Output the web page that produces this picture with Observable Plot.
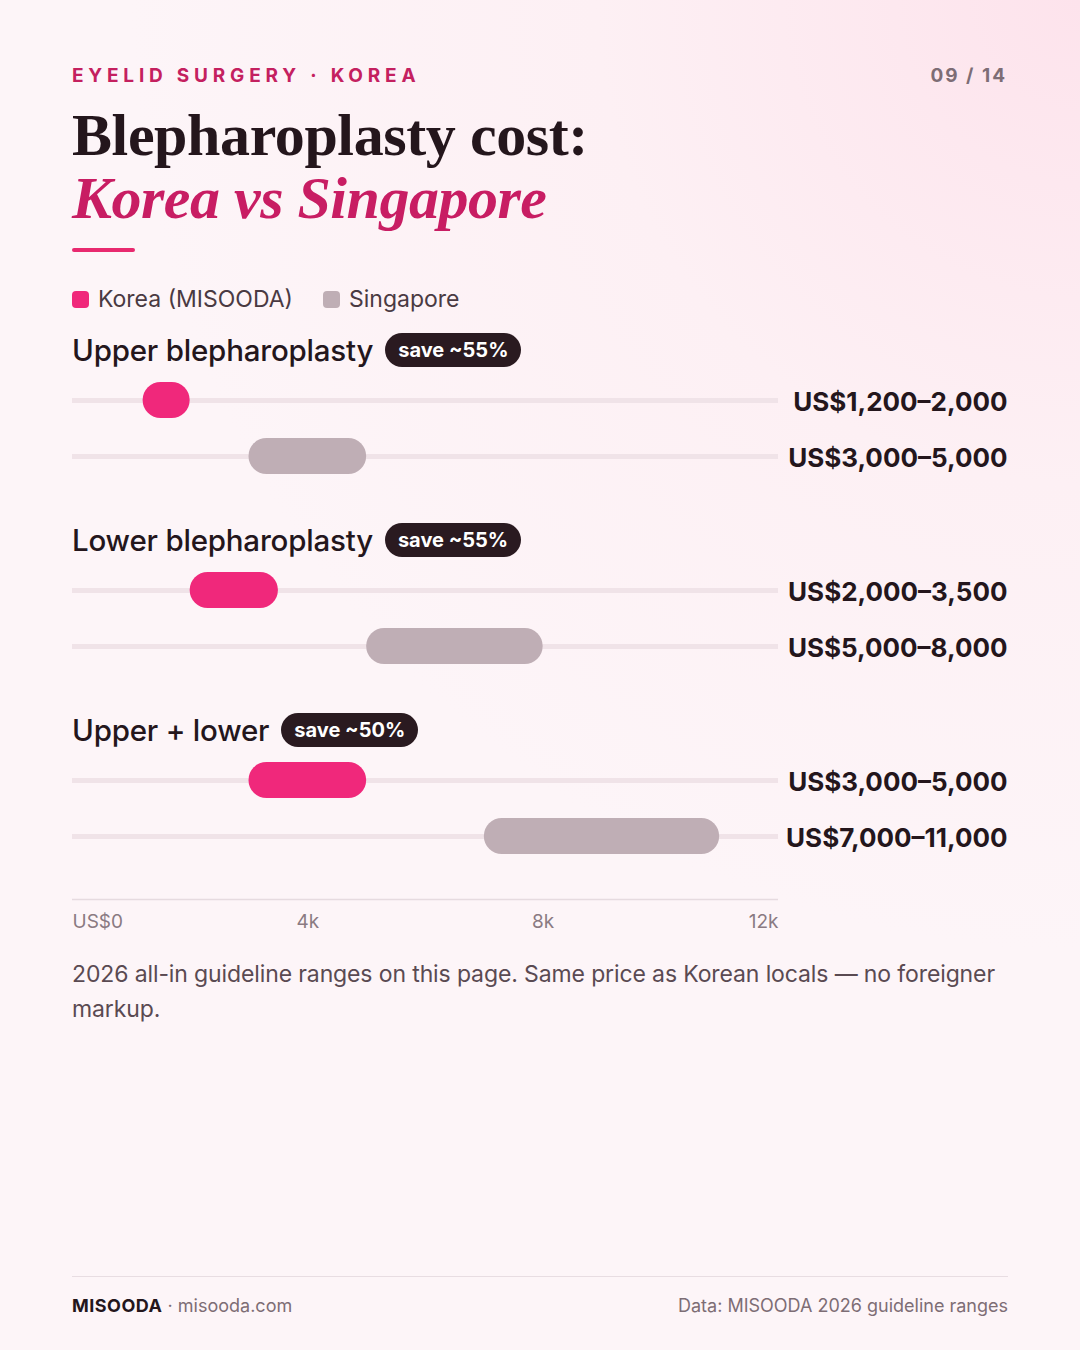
<!DOCTYPE html>
<html><head><meta charset="utf-8">
<script src="https://cdn.jsdelivr.net/npm/d3@7"></script>
<script src="https://cdn.jsdelivr.net/npm/@observablehq/plot@0.6"></script>
<style>
html,body{margin:0;padding:0;}
body{width:1080px;height:1350px;position:relative;overflow:hidden;font-family:Inter,"Noto Sans",sans-serif;
 background: radial-gradient(circle at 100% 0%, #fde3ec 0%, #fdf0f4 28%, #fdf5f8 55%, #fdf5f8 100%);}
.abs{position:absolute;}
.kicker{left:72px;top:64px;font-size:19px;font-weight:700;letter-spacing:4.8px;color:#c4205f;}
.page{right:73px;top:64px;font-size:19px;font-weight:700;letter-spacing:2px;color:#7d6d75;}
.t1{left:72px;top:103px;font-family:"Liberation Serif",serif;font-weight:700;font-size:60px;line-height:64px;color:#24161c;letter-spacing:-0.4px;}
.t2{left:72px;top:166px;font-family:"Liberation Serif",serif;font-weight:700;font-style:italic;font-size:60px;line-height:64px;color:#c81d63;letter-spacing:-0.5px;}
.rule{left:72px;top:248px;width:63px;height:4px;background:#e8296f;border-radius:2px;}
.legend{left:72px;top:285px;display:flex;align-items:center;font-size:23px;color:#4a3a42;}
.sw{width:17px;height:17px;border-radius:4px;margin-right:9px;}
.gh{left:72px;display:flex;align-items:center;height:40px;}
.gt{font-size:29.5px;font-weight:500;color:#24161c;letter-spacing:-0.2px;}
.badge{margin-left:12px;background:#2a1a20;color:#fff;font-weight:700;font-size:20px;height:34px;line-height:34px;padding:0 13px;border-radius:17px;}
.chart{left:0;}
.cap{left:72px;top:957px;width:936px;font-size:23px;line-height:35px;color:#5a4a52;letter-spacing:-0.12px;}
.frule{left:72px;top:1276px;width:936px;height:1px;background:#e8dde2;}
.fl{left:72px;top:1295px;font-size:18px;color:#7d6d75;}
.fl b{color:#24161c;font-weight:700;letter-spacing:0.5px;}
.fr{right:72px;top:1295px;font-size:18px;color:#7d6d75;}
</style></head>
<body>
<script>
// ---- data ----
const groups = ["Upper blepharoplasty", "Lower blepharoplasty", "Upper + lower"];
const savings = ["save ~55%", "save ~55%", "save ~50%"];
const countries = ["Korea", "Singapore"];
const legendLabels = ["Korea (MISOODA)", "Singapore"];
const koreaLow = [1200, 2000, 3000];
const koreaHigh = [2000, 3500, 5000];
const singLow = [3000, 5000, 7000];
const singHigh = [5000, 8000, 11000];
const koreaLabels = ["US$1,200–2,000", "US$2,000–3,500", "US$3,000–5,000"];
const singLabels = ["US$3,000–5,000", "US$5,000–8,000", "US$7,000–11,000"];
const tickValues = [0, 4000, 8000, 12000];
const tickLabels = ["US$0", "4k", "8k", "12k"];
const xDomain = [0, 12000];

const colors = {Korea: "#f0287b", Singapore: "#bfaeb5"};

function add(html, cls, top) {
  const d = document.createElement("div");
  d.className = "abs " + cls;
  if (top != null) d.style.top = top + "px";
  d.innerHTML = html;
  document.body.appendChild(d);
  return d;
}

add("EYELID SURGERY · KOREA", "kicker");
add("09 / 14", "page");
add("Blepharoplasty cost:", "t1");
add("Korea vs Singapore", "t2");
add("", "rule");
add(`<div class="sw" style="background:${colors.Korea}"></div><span>${legendLabels[0]}</span>
     <div class="sw" style="background:${colors.Singapore};margin-left:30px"></div><span>${legendLabels[1]}</span>`, "legend");

const groupTop = [330, 520, 710];
groups.forEach((g, i) => {
  add(`<span class="gt">${g}</span><span class="badge">${savings[i]}</span>`, "gh", groupTop[i]);
  const rows = [
    {country: "Korea", lo: koreaLow[i], hi: koreaHigh[i], label: koreaLabels[i]},
    {country: "Singapore", lo: singLow[i], hi: singHigh[i], label: singLabels[i]}
  ];
  const p = Plot.plot({
    width: 1080, height: 112,
    marginLeft: 72, marginRight: 302, marginTop: 0, marginBottom: 0,
    style: {background: "transparent", overflow: "visible"},
    x: {domain: xDomain, axis: null},
    y: {domain: countries, axis: null, padding: 0},
    marks: [
      Plot.ruleY(rows, {y: "country", x1: xDomain[0], x2: xDomain[1], stroke: "#f0e3e8", strokeWidth: 5}),
      Plot.barX(rows, {y: "country", x1: "lo", x2: "hi", fill: d => colors[d.country], rx: 18, insetTop: 10, insetBottom: 10}),
      Plot.text(rows, {y: "country", text: "label", frameAnchor: "right", dx: 229, dy: 2, textAnchor: "end",
        fontSize: 26, fontWeight: 700, fill: "#24161c", fontFamily: "Inter"})
    ]
  });
  const holder = add("", "chart", groupTop[i] + 42);
  holder.appendChild(p);
});

// axis
const axis = Plot.plot({
  width: 1080, height: 48,
  marginLeft: 72, marginRight: 302, marginTop: 1, marginBottom: 0,
  style: {background: "transparent", overflow: "visible"},
  x: {domain: xDomain, axis: null},
  y: {domain: [0, 1], axis: null},
  marks: [
    Plot.ruleY([1], {x1: xDomain[0], x2: xDomain[1], stroke: "#e6dbe0", strokeWidth: 1.5}),
    Plot.text([0], {x: tickValues[0], y: 0.53, text: [tickLabels[0]], textAnchor: "start", fontSize: 19, fill: "#8a7a82", fontFamily: "Inter"}),
    Plot.text([1, 2], {x: i => tickValues[i], y: 0.53, text: i => tickLabels[i], textAnchor: "middle", fontSize: 19, fill: "#8a7a82", fontFamily: "Inter"}),
    Plot.text([3], {x: tickValues[3], y: 0.53, text: [tickLabels[3]], textAnchor: "end", fontSize: 19, fill: "#8a7a82", fontFamily: "Inter"})
  ]
});
add("", "chart", 898).appendChild(axis);

add("2026 all-in guideline ranges on this page. Same price as Korean locals — no foreigner markup.", "cap");
add("", "frule");
add("<b>MISOODA</b> · misooda.com", "fl");
add("Data: MISOODA 2026 guideline ranges", "fr");
</script>
</body></html>
